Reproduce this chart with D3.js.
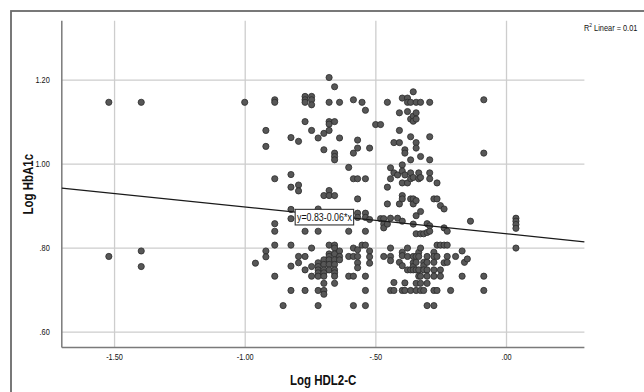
<!DOCTYPE html>
<html><head><meta charset="utf-8">
<script src="https://cdn.jsdelivr.net/npm/d3@7"></script>
<style>body{margin:0;background:#fff}svg{display:block}</style>
</head><body><svg id="c" width="644" height="392"></svg>
<script>
// ---- data ----
const xTicks = [-1.5, -1.0, -0.5, 0.0];
const yTicks = [0.6, 0.8, 1.0, 1.2];
const xTitle = "Log HDL2-C";
const yTitle = "Log HbA1c";
const fitIntercept = 0.833;
const fitSlope = -0.064;
const fitLabel = "y=0.83-0.06*x";
const r2Label = "0.01";
// points grouped by Log HDL2-C column; each column lists its Log HbA1c values
const colX = [-1.520,-1.396,-1.000,-0.959,-0.919,-0.885,-0.853,-0.823,-0.794,-0.769,-0.744,-0.719,-0.697,-0.677,-0.656,-0.637,-0.602,-0.584,-0.568,-0.551,-0.538,-0.522,-0.499,-0.480,-0.468,-0.454,-0.442,-0.429,-0.415,-0.408,-0.397,-0.387,-0.377,-0.365,-0.355,-0.344,-0.334,-0.327,-0.315,-0.302,-0.292,-0.276,-0.264,-0.251,-0.237,-0.225,-0.212,-0.193,-0.168,-0.159,-0.148,-0.136,-0.085,0.038];
const colY = [
 [1.146,0.779],
 [1.146,0.792,0.755],
 [1.146],
 [0.763],
 [1.079,1.041,0.792,0.778],
 [1.152,1.146,0.964,0.857,0.839,0.806,0.732],
 [0.662],
 [1.062,0.974,0.944,0.891,0.869,0.806,0.756,0.698],
 [1.053,0.949,0.935,0.779,0.764],
 [1.160,1.152,1.146,1.100,0.839,0.779,0.747,0.698],
 [1.160,1.152,1.140,1.079,0.799,0.755,0.732],
 [1.061,0.892,0.839,0.764,0.755,0.747,0.740,0.732,0.698,0.662],
 [1.072,1.033,0.924,0.771,0.760,0.747,0.740,0.732,0.715,0.698,0.689],
 [1.205,1.146,1.100,1.094,1.079,0.936,0.924,0.806,0.785,0.779,0.771,0.760,0.747],
 [1.183,1.100,1.025,1.017,1.009,0.924,0.806,0.799,0.785,0.771,0.760,0.747,0.740,0.732,0.715],
 [1.146,1.061,0.792,0.779,0.771],
 [0.991,0.839,0.779,0.732],
 [1.152,1.025,0.964,0.799,0.779,0.732,0.662],
 [1.056,1.037,0.964,0.916,0.882,0.872,0.795,0.779,0.764,0.752],
 [1.146,0.806],
 [1.127,0.964,0.882,0.872,0.839,0.806,0.732,0.698,0.662],
 [1.037,0.867,0.792,0.778,0.763],
 [1.093],
 [1.093,0.869],
 [0.869,0.856,0.847,0.779],
 [1.146,0.944,0.904,0.856],
 [0.990,0.964,0.870,0.799,0.779,0.769,0.698],
 [1.050,0.978,0.717,0.698],
 [0.973,0.870],
 [1.121,1.079,1.050,0.904,0.765],
 [1.156,0.997,0.982,0.954,0.924,0.916,0.863,0.789,0.781,0.757,0.698],
 [1.033,1.025,0.973,0.716,0.698],
 [1.156,1.146,1.124,0.954,0.799,0.779,0.747],
 [1.146,1.106,1.064,1.009,0.978,0.964,0.916,0.747,0.698],
 [1.171,1.113,1.101,0.967,0.916,0.904,0.856,0.779,0.764,0.755,0.747],
 [1.146,1.121,1.106,1.050,1.037,0.912,0.876,0.833,0.779,0.765,0.747,0.715,0.698],
 [0.978,0.964,0.789,0.779,0.747,0.732],
 [1.146,1.017,0.967,0.886,0.833,0.799,0.732,0.715,0.698],
 [0.833,0.765,0.757,0.747,0.698],
 [0.857,0.836,0.779,0.765,0.747,0.732,0.715,0.662],
 [1.146,1.064,1.009,0.978,0.964,0.852,0.839],
 [0.916,0.789,0.779,0.765,0.747,0.732,0.698,0.662],
 [0.954,0.916,0.806,0.779,0.698],
 [0.900,0.806,0.747,0.732],
 [0.892,0.847,0.806,0.764],
 [0.839,0.806,0.779,0.765],
 [0.698],
 [0.779],
 [0.792,0.732],
 [0.765],
 [0.773],
 [0.863],
 [1.152,1.025,0.732,0.698],
 [0.870,0.863,0.855,0.846,0.799]
];

// ---- drawing ----
const points = colX.flatMap((xv, i) => colY[i].map(yv => ({x: xv, y: yv})));
const svg = d3.select("#c");
const FONT = "'Liberation Sans',Arial,sans-serif";
const SX = 0.82; // horizontally condensed lettering like the reference
const L = 61.8, R = 584.4, T = 20.8, B = 347.6;
const x = d3.scaleLinear().domain([-1.7, 0.3]).range([L, R]);
const y = d3.scaleLinear().domain([0.562, 1.34]).range([B, T]);
const fmt = v => (v < 0 ? "-" : "") + Math.abs(v).toFixed(2).replace(/^0/, "");

// outer frame
svg.append("rect").attr("x", 11).attr("y", 11).attr("width", 700).attr("height", 420)
  .attr("fill", "#fff").attr("stroke", "#6a6a6a").attr("stroke-width", 1.8);

// x axis with gridlines
const gx = svg.append("g").attr("transform", `translate(0,${B})`)
  .call(d3.axisBottom(x).tickValues(xTicks).tickFormat(fmt).tickSizeInner(-(B - T)).tickSizeOuter(0).tickPadding(6.5));
gx.select(".domain").remove();
gx.selectAll(".tick line").attr("stroke", "#cdcdcd").attr("stroke-width", 1.3);
gx.selectAll(".tick text").attr("font-family", FONT).attr("font-size", 9).attr("fill", "#111")
  .attr("transform", `scale(${SX},1)`);

const gy = svg.append("g").attr("transform", `translate(${L},0)`)
  .call(d3.axisLeft(y).tickValues(yTicks).tickFormat(fmt).tickSizeInner(-(R - L)).tickSizeOuter(0).tickPadding(12));
gy.select(".domain").remove();
gy.selectAll(".tick line").attr("stroke", "#cdcdcd").attr("stroke-width", 1.3);
gy.selectAll(".tick text").attr("font-family", FONT).attr("font-size", 9).attr("fill", "#111")
  .attr("x", 0).attr("transform", `translate(-12,0) scale(${SX},1)`);

// axis lines
svg.append("line").attr("x1", L).attr("x2", L).attr("y1", T).attr("y2", B).attr("stroke", "#7a7a7a").attr("stroke-width", 1.5);
svg.append("line").attr("x1", L).attr("x2", R).attr("y1", B).attr("y2", B).attr("stroke", "#7a7a7a").attr("stroke-width", 1.5);

// points
svg.append("g").selectAll("circle").data(points).join("circle")
  .attr("cx", d => x(d.x)).attr("cy", d => y(d.y)).attr("r", 3.1)
  .attr("fill", "#575757").attr("stroke", "#2b2b2b").attr("stroke-width", 0.8);

// fit line
const fit = v => fitIntercept + fitSlope * v;
const dom = x.domain();
svg.append("line").attr("x1", x(dom[0])).attr("y1", y(fit(dom[0])))
  .attr("x2", x(dom[1])).attr("y2", y(fit(dom[1])))
  .attr("stroke", "#1a1a1a").attr("stroke-width", 1.2);

// equation label
const lx = x(-0.695), ly = y(fit(-0.70)) + 2.2;
const lg = svg.append("g");
const lt = lg.append("text").attr("transform", `translate(${lx},${ly}) scale(${SX},1)`)
  .attr("text-anchor", "middle").attr("dy", "0.35em")
  .attr("font-family", FONT).attr("font-size", 10.8).attr("fill", "#111").text(fitLabel);
const bw = lt.node().getBBox().width * SX;
lg.insert("rect", "text").attr("x", lx - bw / 2 - 1.8).attr("y", ly - 7.8).attr("width", bw + 3.6).attr("height", 15.6)
  .attr("fill", "#fff").attr("stroke", "#333").attr("stroke-width", 1.1);

// R2 label
const rt = svg.append("text").attr("transform", `translate(584,30.5) scale(${SX},1)`)
  .attr("font-family", FONT).attr("font-size", 9).attr("fill", "#111");
rt.append("tspan").text("R");
rt.append("tspan").attr("font-size", 6).attr("dy", -3.5).text("2");
rt.append("tspan").attr("dy", 3.5).text(" Linear = " + r2Label);

// axis titles
svg.append("text").attr("transform", `translate(${(L + R) / 2},380) scale(${SX},1)`).attr("dy", "0.35em").attr("text-anchor", "middle")
  .attr("font-family", FONT).attr("font-weight", "bold").attr("font-size", 14).attr("fill", "#111").text(xTitle);
svg.append("text").attr("transform", `translate(28,${(T + B) / 2}) rotate(-90) scale(${SX},1)`).attr("dy", "0.35em").attr("text-anchor", "middle")
  .attr("font-family", FONT).attr("font-weight", "bold").attr("font-size", 14).attr("fill", "#111").text(yTitle);
</script></body></html>
